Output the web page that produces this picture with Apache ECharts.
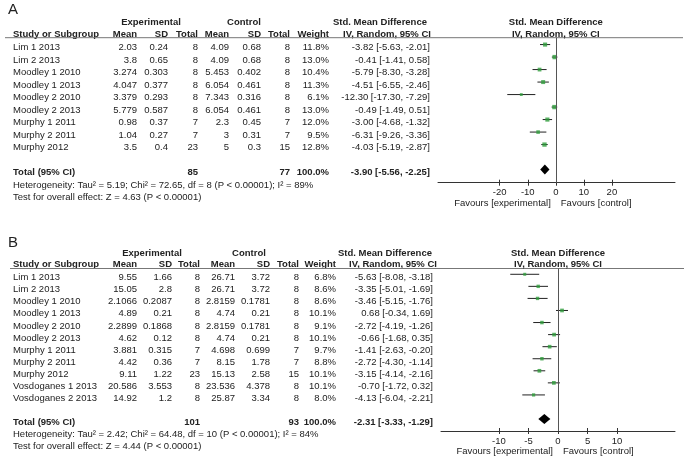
<!DOCTYPE html>
<html>
<head>
<meta charset="utf-8">
<script src="https://cdn.jsdelivr.net/npm/echarts@6/dist/echarts.min.js"></script>
<style>
html, body { margin: 0; padding: 0; background: #fff; }
#chart { width: 688px; height: 462px; }
</style>
</head>
<body>
<div id="chart"></div>
<script>
// ---- panel A data ----
var studiesA = ['Lim 1 2013', 'Lim 2 2013', 'Moodley 1 2010', 'Moodley 1 2013', 'Moodley 2 2010',
    'Moodley 2 2013', 'Murphy 1 2011', 'Murphy 2 2011', 'Murphy 2012'];
var expMeanA = [2.03, 3.8, 3.274, 4.047, 3.379, 5.779, 0.98, 1.04, 3.5];
var expSdA = [0.24, 0.65, 0.303, 0.377, 0.293, 0.587, 0.37, 0.27, 0.4];
var expNA = [8, 8, 8, 8, 8, 8, 7, 7, 23];
var ctlMeanA = [4.09, 4.09, 5.453, 6.054, 7.343, 6.054, 2.3, 3, 5];
var ctlSdA = [0.68, 0.68, 0.402, 0.461, 0.316, 0.461, 0.45, 0.31, 0.3];
var ctlNA = [8, 8, 8, 8, 8, 8, 7, 7, 15];
var weightA = [11.8, 13.0, 10.4, 11.3, 6.1, 13.0, 12.0, 9.5, 12.8];
var smdA = [-3.82, -0.41, -5.79, -4.51, -12.30, -0.49, -3.00, -6.31, -4.03];
var lowA = [-5.63, -1.41, -8.30, -6.55, -17.30, -1.49, -4.68, -9.26, -5.19];
var highA = [-2.01, 0.58, -3.28, -2.46, -7.29, 0.51, -1.32, -3.36, -2.87];
// total: exp N, ctl N, smd, low, high
var totalA = [85, 77, -3.90, -5.56, -2.25];
var hetA = 'Heterogeneity: Tau\u00b2 = 5.19; Chi\u00b2 = 72.65, df = 8 (P < 0.00001); I\u00b2 = 89%';
var testA = 'Test for overall effect: Z = 4.63 (P < 0.00001)';
var ticksA = [-20, -10, 0, 10, 20];

// ---- panel B data ----
var studiesB = ['Lim 1 2013', 'Lim 2 2013', 'Moodley 1 2010', 'Moodley 1 2013', 'Moodley 2 2010',
    'Moodley 2 2013', 'Murphy 1 2011', 'Murphy 2 2011', 'Murphy 2012', 'Vosdoganes 1 2013', 'Vosdoganes 2 2013'];
var expMeanB = [9.55, 15.05, 2.1066, 4.89, 2.2899, 4.62, 3.881, 4.42, 9.11, 20.586, 14.92];
var expSdB = [1.66, 2.8, 0.2087, 0.21, 0.1868, 0.12, 0.315, 0.36, 1.22, 3.553, 1.2];
var expNB = [8, 8, 8, 8, 8, 8, 7, 7, 23, 8, 8];
var ctlMeanB = [26.71, 26.71, 2.8159, 4.74, 2.8159, 4.74, 4.698, 8.15, 15.13, 23.536, 25.87];
var ctlSdB = [3.72, 3.72, 0.1781, 0.21, 0.1781, 0.21, 0.699, 1.78, 2.58, 4.378, 3.34];
var ctlNB = [8, 8, 8, 8, 8, 8, 7, 7, 15, 8, 8];
var weightB = [6.8, 8.6, 8.6, 10.1, 9.1, 10.1, 9.7, 8.8, 10.1, 10.1, 8.0];
var smdB = [-5.63, -3.35, -3.46, 0.68, -2.72, -0.66, -1.41, -2.72, -3.15, -0.70, -4.13];
var lowB = [-8.08, -5.01, -5.15, -0.34, -4.19, -1.68, -2.63, -4.30, -4.14, -1.72, -6.04];
var highB = [-3.18, -1.69, -1.76, 1.69, -1.26, 0.35, -0.20, -1.14, -2.16, 0.32, -2.21];
var totalB = [101, 93, -2.31, -3.33, -1.29];
var hetB = 'Heterogeneity: Tau\u00b2 = 2.42; Chi\u00b2 = 64.48, df = 10 (P < 0.00001); I\u00b2 = 84%';
var testB = 'Test for overall effect: Z = 4.44 (P < 0.00001)';
var ticksB = [-10, -5, 0, 5, 10];

var FONT = '9.5px "Liberation Sans", Arial, sans-serif';
var TXT = '#222';
var GREEN = '#2f9e3c';

function txt(x, y, s, align, bold, size) {
    return {
        type: 'text', x: x, y: y,
        style: {
            text: s, fill: TXT, align: align || 'left', verticalAlign: 'middle',
            font: (bold ? 'bold ' : '') + (size ? size + 'px "Liberation Sans", Arial, sans-serif' : FONT)
        }
    };
}

function fmtCI(m, l, h) {
    return m.toFixed(2) + ' [' + l.toFixed(2) + ', ' + h.toFixed(2) + ']';
}

// one panel config, column x are right edges in px
// shift: forest marks sit a little above the text rows
var panelA = {
    label: 'A', labelRow: -3.0, lineX: [5, 683],
    studies: studiesA, expMean: expMeanA, expSd: expSdA, expN: expNA,
    ctlMean: ctlMeanA, ctlSd: ctlSdA, ctlN: ctlNA, weight: weightA,
    smd: smdA, low: lowA, high: highA, total: totalA, het: hetA, test: testA,
    cols: [137, 168, 198, 229, 261, 290, 329, 430],
    groupX: [151, 244, 380], ivX: 387,
    yMin: -0.8, yMax: 10.8, shift: 0.25, ticks: ticksA
};
var panelB = {
    label: 'B', labelRow: -2.85, lineX: [10, 684],
    studies: studiesB, expMean: expMeanB, expSd: expSdB, expN: expNB,
    ctlMean: ctlMeanB, ctlSd: ctlSdB, ctlN: ctlNB, weight: weightB,
    smd: smdB, low: lowB, high: highB, total: totalB, het: hetB, test: testB,
    cols: [137, 172, 200, 235, 270, 299, 336, 433],
    groupX: [152, 249, 385], ivX: 393,
    yMin: -0.76, yMax: 12.71, shift: 0.28, ticks: ticksB
};

function rowRenderer(p) {
    return function (params, api) {
        var i = params.dataIndex;
        var y = api.coord([0, i])[1];
        var c = p.cols;
        var vals = [String(p.expMean[i]), String(p.expSd[i]), String(p.expN[i]),
            String(p.ctlMean[i]), String(p.ctlSd[i]), String(p.ctlN[i]),
            p.weight[i].toFixed(1) + '%', fmtCI(p.smd[i], p.low[i], p.high[i])];
        var ch = [txt(13, y, p.studies[i], 'left')];
        for (var k = 0; k < vals.length; k++) {
            ch.push(txt(c[k], y, vals[k], 'right'));
        }
        return { type: 'group', children: ch };
    };
}

function headRenderer(p) {
    return function (params, api) {
        var n = p.studies.length;
        var c = p.cols;
        var Y = function (r) { return api.coord([0, r])[1]; };
        var yG = Y(-2.05), yH = Y(-1.1), yLine = Y(p.yMin);
        var yT = Y(n + 1), yHet = Y(n + 2), yTest = Y(n + 3);
        var t = p.total;
        return {
            type: 'group', children: [
                txt(8, Y(p.labelRow), p.label, 'left', false, 15),
                txt(p.groupX[0], yG, 'Experimental', 'center', true),
                txt(p.groupX[1], yG, 'Control', 'center', true),
                txt(p.groupX[2], yG, 'Std. Mean Difference', 'center', true),
                txt(13, yH, 'Study or Subgroup', 'left', true),
                txt(c[0], yH, 'Mean', 'right', true),
                txt(c[1], yH, 'SD', 'right', true),
                txt(c[2], yH, 'Total', 'right', true),
                txt(c[3], yH, 'Mean', 'right', true),
                txt(c[4], yH, 'SD', 'right', true),
                txt(c[5], yH, 'Total', 'right', true),
                txt(c[6], yH, 'Weight', 'right', true),
                txt(p.ivX, yH, 'IV, Random, 95% CI', 'center', true),
                {
                    type: 'line',
                    shape: { x1: p.lineX[0], y1: yLine, x2: p.lineX[1], y2: yLine },
                    style: { stroke: '#777', lineWidth: 1 }
                },
                txt(13, yT, 'Total (95% CI)', 'left', true),
                txt(c[2], yT, String(t[0]), 'right', true),
                txt(c[5], yT, String(t[1]), 'right', true),
                txt(c[6], yT, '100.0%', 'right', true),
                txt(c[7], yT, fmtCI(t[2], t[3], t[4]), 'right', true),
                txt(13, yHet, p.het, 'left'),
                txt(13, yTest, p.test, 'left')
            ]
        };
    };
}

function forestHeadRenderer(p) {
    return function (params, api) {
        var s = p.shift;
        var x0 = api.coord([0, 0])[0];
        var yAxis = api.coord([0, p.yMax + s])[1];
        var yF = yAxis + 20.5;
        return {
            type: 'group', children: [
                txt(x0, api.coord([0, -2.05 + s])[1], 'Std. Mean Difference', 'center', true),
                txt(x0, api.coord([0, -1.1 + s])[1], 'IV, Random, 95% CI', 'center', true),
                txt(x0 - 5, yF, 'Favours [experimental]', 'right'),
                txt(x0 + 5, yF, 'Favours [control]', 'left')
            ]
        };
    };
}

function ciRenderer(params, api) {
    var a = api.coord([api.value(0), api.value(2)]);
    var b = api.coord([api.value(1), api.value(2)]);
    return {
        type: 'line',
        shape: { x1: a[0], y1: a[1], x2: b[0], y2: b[1] },
        style: { stroke: '#222', lineWidth: 1 }
    };
}

function diamondRenderer(params, api) {
    var l = api.coord([api.value(0), api.value(3)]);
    var m = api.coord([api.value(1), api.value(3)]);
    var h = api.coord([api.value(2), api.value(3)]);
    return {
        type: 'polygon',
        shape: { points: [[l[0], l[1]], [m[0], m[1] - 5], [h[0], h[1]], [m[0], m[1] + 5]] },
        style: { fill: '#000' }
    };
}

function seriesFor(p, tX, tY, fX, fY) {
    var n = p.studies.length;
    var rows = [], ci = [], pts = [];
    for (var i = 0; i < n; i++) {
        rows.push([0, i]);
        ci.push([p.low[i], p.high[i], i]);
        pts.push([p.smd[i], i, p.weight[i]]);
    }
    return [
        {
            type: 'custom', xAxisIndex: tX, yAxisIndex: tY, clip: false, silent: true,
            data: rows, encode: { x: 0, y: 1 }, renderItem: rowRenderer(p)
        },
        {
            type: 'custom', xAxisIndex: tX, yAxisIndex: tY, clip: false, silent: true,
            data: [[0, 0]], encode: { x: 0, y: 1 }, renderItem: headRenderer(p)
        },
        {
            type: 'custom', xAxisIndex: fX, yAxisIndex: fY, clip: false, silent: true,
            data: [[0, 0]], encode: { x: 0, y: 1 }, renderItem: forestHeadRenderer(p)
        },
        {
            type: 'scatter', xAxisIndex: fX, yAxisIndex: fY, silent: true, z: 1,
            data: [],
            markLine: {
                silent: true, symbol: ['none', 'none'], label: { show: false },
                lineStyle: { color: '#555', width: 1, type: 'solid' },
                data: [{ xAxis: 0 }]
            }
        },
        {
            type: 'custom', xAxisIndex: fX, yAxisIndex: fY, clip: false, silent: true, z: 3,
            data: ci, encode: { x: [0, 1], y: 2 }, renderItem: ciRenderer
        },
        {
            type: 'scatter', xAxisIndex: fX, yAxisIndex: fY, silent: true, z: 4,
            symbol: 'rect',
            symbolSize: function (v) { return 1.5 + v[2] * 0.22; },
            itemStyle: { color: GREEN },
            data: pts
        },
        {
            type: 'custom', xAxisIndex: fX, yAxisIndex: fY, clip: false, silent: true, z: 4,
            data: [[p.total[3], p.total[2], p.total[4], n + 1]],
            encode: { x: [0, 1, 2], y: 3 }, renderItem: diamondRenderer
        }
    ];
}

function pxAxis(grid) {
    return { type: 'value', gridIndex: grid, min: 0, max: 688, show: false };
}
function rowAxis(grid, p, s) {
    return { type: 'value', gridIndex: grid, min: p.yMin + s, max: p.yMax + s, inverse: true, show: false };
}
function forestAxis(grid, min, max, ticks) {
    return {
        type: 'value', gridIndex: grid, min: min, max: max, position: 'bottom',
        splitLine: { show: false },
        axisLine: { show: true, onZero: false, lineStyle: { color: '#333', width: 1 } },
        axisTick: { show: true, length: 3, customValues: ticks, lineStyle: { color: '#333' } },
        axisLabel: {
            show: true, customValues: ticks, margin: 5, color: TXT,
            fontSize: 9.5, fontFamily: '"Liberation Sans", Arial, sans-serif'
        }
    };
}
function innerTickAxis(grid, min, max, ticks) {
    return {
        type: 'value', gridIndex: grid, min: min, max: max, position: 'bottom',
        splitLine: { show: false },
        axisLine: { show: false, onZero: false },
        axisTick: { show: true, inside: true, length: 3, customValues: ticks, lineStyle: { color: '#333' } },
        axisLabel: { show: false }
    };
}

var chart = echarts.init(document.getElementById('chart'));

var option = {
    backgroundColor: '#fff',
    animation: false,
    grid: [
        { left: 0, width: 688, top: 37.7, height: 145 },
        { left: 438, width: 237, top: 37.7, height: 145 },
        { left: 0, width: 688, top: 268.5, height: 162.5 },
        { left: 441, width: 234, top: 268.5, height: 162.5 }
    ],
    xAxis: [
        pxAxis(0),
        forestAxis(1, -42, 42.5, ticksA),
        innerTickAxis(1, -42, 42.5, ticksA),
        pxAxis(2),
        forestAxis(3, -19.8, 19.8, ticksB),
        innerTickAxis(3, -19.8, 19.8, ticksB)
    ],
    yAxis: [
        rowAxis(0, panelA, 0),
        rowAxis(1, panelA, panelA.shift),
        rowAxis(2, panelB, 0),
        rowAxis(3, panelB, panelB.shift)
    ],
    series: seriesFor(panelA, 0, 0, 1, 1).concat(seriesFor(panelB, 3, 2, 4, 3))
};

chart.setOption(option);
</script>
</body>
</html>
